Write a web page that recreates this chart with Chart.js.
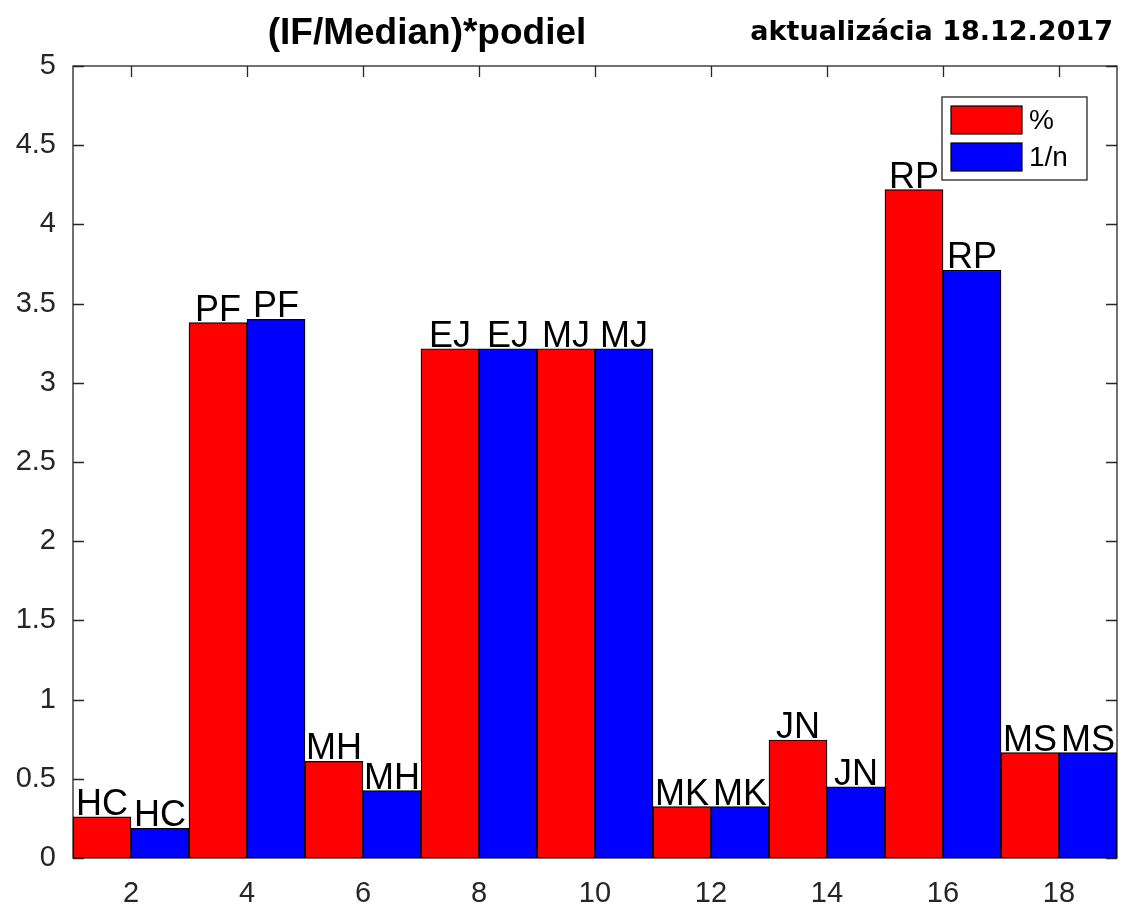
<!DOCTYPE html>
<html>
<head>
<meta charset="utf-8">
<script src="https://cdn.jsdelivr.net/npm/chart.js@4.4.1/dist/chart.umd.min.js"></script>
<style>
  body { margin: 0; background: #fff; }
</style>
</head>
<body>
<canvas id="podiel-chart" width="1123" height="905"></canvas>
<script>
// group centres on the x axis, red bar sits left of it, blue bar right
const groupTicks = [2, 4, 6, 8, 10, 12, 14, 16, 18];
const names = ['HC', 'PF', 'MH', 'EJ', 'MJ', 'MK', 'JN', 'RP', 'MS'];
const percentValues = [0.26, 3.38, 0.61, 3.215, 3.215, 0.325, 0.745, 4.22, 0.665];
const inverseValues = [0.187, 3.40, 0.425, 3.215, 3.215, 0.325, 0.45, 3.71, 0.665];
const seriesLabels = ['%', '1/n'];
const titleText = '(IF/Median)*podiel';
const dateText = 'aktualizácia 18.12.2017';

const AXIS_COLOR = '#262626';
const SANS = '"Liberation Sans", Arial, sans-serif';

function toPoints(values, shift) {
    return values.map((v, i) => ({ x: groupTicks[i] + shift, y: v }));
}

// box round the plot plus inward ticks on all four sides, like matlab
const framePlugin = {
    id: 'frame',
    beforeDatasetsDraw(chart) {
        const { ctx, chartArea: a, scales } = chart;
        ctx.save();
        ctx.strokeStyle = AXIS_COLOR;
        ctx.lineWidth = 1.3;
        ctx.beginPath();
        for (const t of scales.x.ticks) {
            const px = Math.round(scales.x.getPixelForValue(t.value)) + 0.5;
            ctx.moveTo(px, a.bottom); ctx.lineTo(px, a.bottom - 11);
            ctx.moveTo(px, a.top); ctx.lineTo(px, a.top + 11);
        }
        for (const t of scales.y.ticks) {
            const py = Math.round(scales.y.getPixelForValue(t.value)) + 0.5;
            ctx.moveTo(a.left, py); ctx.lineTo(a.left + 11, py);
            ctx.moveTo(a.right, py); ctx.lineTo(a.right - 11, py);
        }
        ctx.stroke();
        ctx.strokeRect(a.left, a.top, a.right - a.left, a.bottom - a.top);
        ctx.restore();
    }
};

// name over each bar on a white patch
const barLabelPlugin = {
    id: 'barLabels',
    afterDatasetsDraw(chart) {
        const { ctx } = chart;
        ctx.save();
        ctx.font = '36px ' + SANS;
        ctx.textAlign = 'center';
        ctx.textBaseline = 'alphabetic';
        chart.data.datasets.forEach((ds, di) => {
            const meta = chart.getDatasetMeta(di);
            meta.data.forEach((bar, i) => {
                const text = names[i];
                const w = ctx.measureText(text).width;
                const base = bar.y - 2;
                ctx.fillStyle = '#fff';
                ctx.fillRect(bar.x - w / 2 - 1, base - 27, w + 2, 28);
                ctx.fillStyle = '#000';
                ctx.fillText(text, bar.x, base);
            });
        });
        ctx.restore();
    }
};

const legendPlugin = {
    id: 'legendBox',
    afterDraw(chart) {
        const { ctx, chartArea: a } = chart;
        const left = a.right - 175, top = a.top + 31;
        ctx.save();
        ctx.fillStyle = '#fff';
        ctx.fillRect(left, top, 145, 83);
        ctx.strokeStyle = AXIS_COLOR;
        ctx.lineWidth = 1.3;
        ctx.strokeRect(left, top, 145, 83);
        ctx.font = '28px ' + SANS;
        ctx.textBaseline = 'middle';
        chart.data.datasets.forEach((ds, i) => {
            const y = top + 9 + i * 37;
            ctx.fillStyle = ds.backgroundColor;
            ctx.fillRect(left + 9, y, 71, 28);
            ctx.strokeStyle = '#000';
            ctx.lineWidth = 1.2;
            ctx.strokeRect(left + 9, y, 71, 28);
            ctx.fillStyle = '#000';
            ctx.fillText(ds.label, left + 87, y + 15);
        });
        ctx.restore();
    }
};

const titlePlugin = {
    id: 'titles',
    afterDraw(chart) {
        const { ctx } = chart;
        ctx.save();
        ctx.fillStyle = '#000';
        ctx.textBaseline = 'alphabetic';
        ctx.font = 'bold 37px ' + SANS;
        ctx.textAlign = 'center';
        ctx.fillText(titleText, 427, 44);
        ctx.font = 'bold 27px "DejaVu Sans", sans-serif';
        ctx.textAlign = 'right';
        ctx.fillText(dateText, 1113, 40);
        ctx.restore();
    }
};

new Chart(document.getElementById('podiel-chart'), {
    type: 'bar',
    data: {
        datasets: [{
            label: seriesLabels[0],
            data: toPoints(percentValues, -0.5),
            backgroundColor: '#ff0000'
        }, {
            label: seriesLabels[1],
            data: toPoints(inverseValues, 0.5),
            backgroundColor: '#0000ff'
        }]
    },
    options: {
        responsive: false,
        animation: false,
        layout: { padding: { top: 66, right: 6, left: 0, bottom: 0 } },
        datasets: {
            bar: {
                grouped: false,
                categoryPercentage: 1,
                barPercentage: 1,
                borderColor: '#000',
                borderWidth: 1.2,
                borderSkipped: false
            }
        },
        plugins: {
            legend: { display: false },
            tooltip: { enabled: false }
        },
        scales: {
            x: {
                type: 'linear',
                min: 1,
                max: 19,
                offset: false,
                grid: { display: false, drawTicks: false },
                border: { display: false },
                afterBuildTicks: (axis) => { axis.ticks = groupTicks.map(v => ({ value: v })); },
                afterFit: (axis) => { axis.height = 47; },
                ticks: {
                    font: { family: SANS, size: 29 },
                    color: AXIS_COLOR,
                    padding: 19,
                    maxRotation: 0,
                    autoSkip: false
                }
            },
            y: {
                min: 0,
                max: 5,
                grid: { display: false, drawTicks: false },
                border: { display: false },
                afterFit: (axis) => { axis.width = 73; },
                ticks: {
                    stepSize: 0.5,
                    callback: (v) => String(v),
                    font: { family: SANS, size: 29 },
                    color: AXIS_COLOR,
                    padding: 17
                }
            }
        }
    },
    plugins: [framePlugin, barLabelPlugin, legendPlugin, titlePlugin]
});
</script>
</body>
</html>
